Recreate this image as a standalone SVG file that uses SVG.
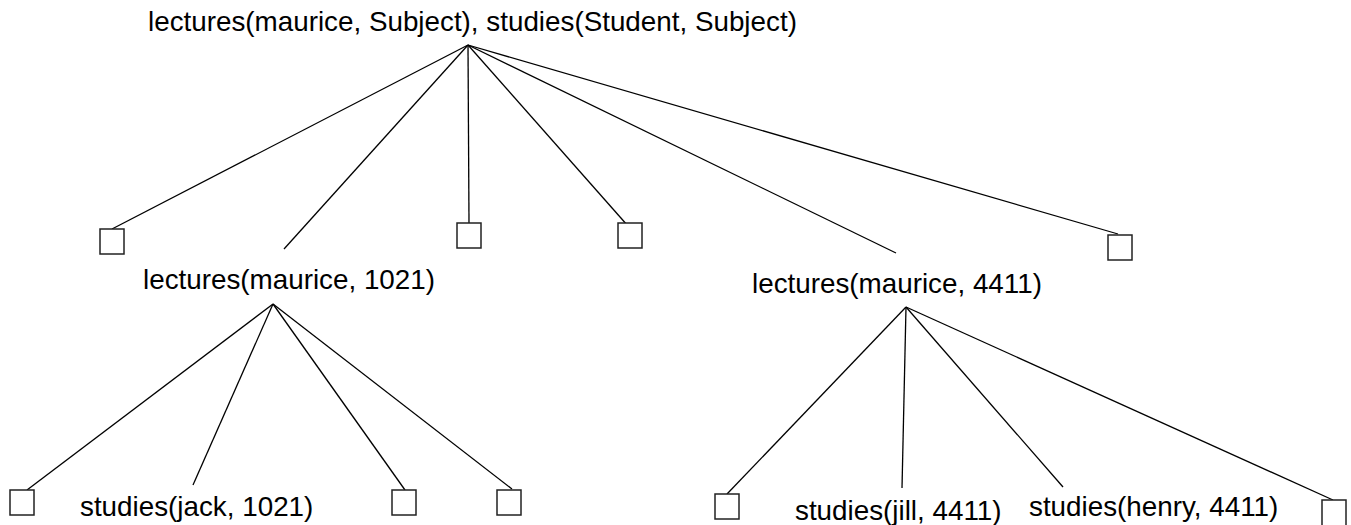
<svg xmlns="http://www.w3.org/2000/svg" width="1351" height="525" viewBox="0 0 1351 525">
<style>
text{font-family:"Liberation Sans",Arial,Helvetica,sans-serif;font-size:27.8px;fill:#000}
.box{fill:#fff;stroke:#222;stroke-width:1.5}
.edge{stroke:#000;stroke-width:1.3;fill:none}
</style>
<rect width="1351" height="525" fill="#fff"/>
<g id="connectors">
<line class="edge" x1="468" y1="45" x2="112" y2="229"/>
<line class="edge" x1="468" y1="45" x2="284" y2="249"/>
<line class="edge" x1="468" y1="45" x2="469" y2="223"/>
<line class="edge" x1="468" y1="45" x2="628" y2="226"/>
<line class="edge" x1="468" y1="45" x2="896" y2="253"/>
<line class="edge" x1="468" y1="45" x2="1118" y2="234"/>
<line class="edge" x1="273" y1="304" x2="27" y2="490"/>
<line class="edge" x1="273" y1="304" x2="193" y2="485"/>
<line class="edge" x1="273" y1="304" x2="405" y2="490"/>
<line class="edge" x1="273" y1="304" x2="512" y2="489"/>
<line class="edge" x1="906" y1="307" x2="727" y2="494"/>
<line class="edge" x1="906" y1="307" x2="902" y2="488"/>
<line class="edge" x1="906" y1="307" x2="1063" y2="487"/>
<line class="edge" x1="906" y1="307" x2="1333" y2="500"/>
</g>
<g id="root"><text x="148" y="31">lectures(maurice, Subject), studies(Student, Subject)</text></g>
<g id="fail1"><rect class="box" x="100" y="229" width="24" height="25"/></g>
<g id="n1021"><text x="143" y="289">lectures(maurice, 1021)</text></g>
<g id="fail2"><rect class="box" x="457" y="223" width="24" height="25"/></g>
<g id="fail3"><rect class="box" x="618" y="223" width="24" height="25"/></g>
<g id="n4411"><text x="752" y="293">lectures(maurice, 4411)</text></g>
<g id="fail4"><rect class="box" x="1108" y="235" width="24" height="25"/></g>
<g id="fail5"><rect class="box" x="10" y="490" width="24" height="25"/></g>
<g id="jack"><text x="80" y="516">studies(jack, 1021)</text></g>
<g id="fail6"><rect class="box" x="392" y="490" width="24" height="25"/></g>
<g id="fail7"><rect class="box" x="497" y="490" width="24" height="25"/></g>
<g id="fail8"><rect class="box" x="715" y="494" width="24" height="25"/></g>
<g id="jill"><text x="795" y="520">studies(jill, 4411)</text></g>
<g id="henry"><text x="1029" y="516">studies(henry, 4411)</text></g>
<g id="fail9"><rect class="box" x="1322" y="500" width="24" height="27"/></g>
</svg>
